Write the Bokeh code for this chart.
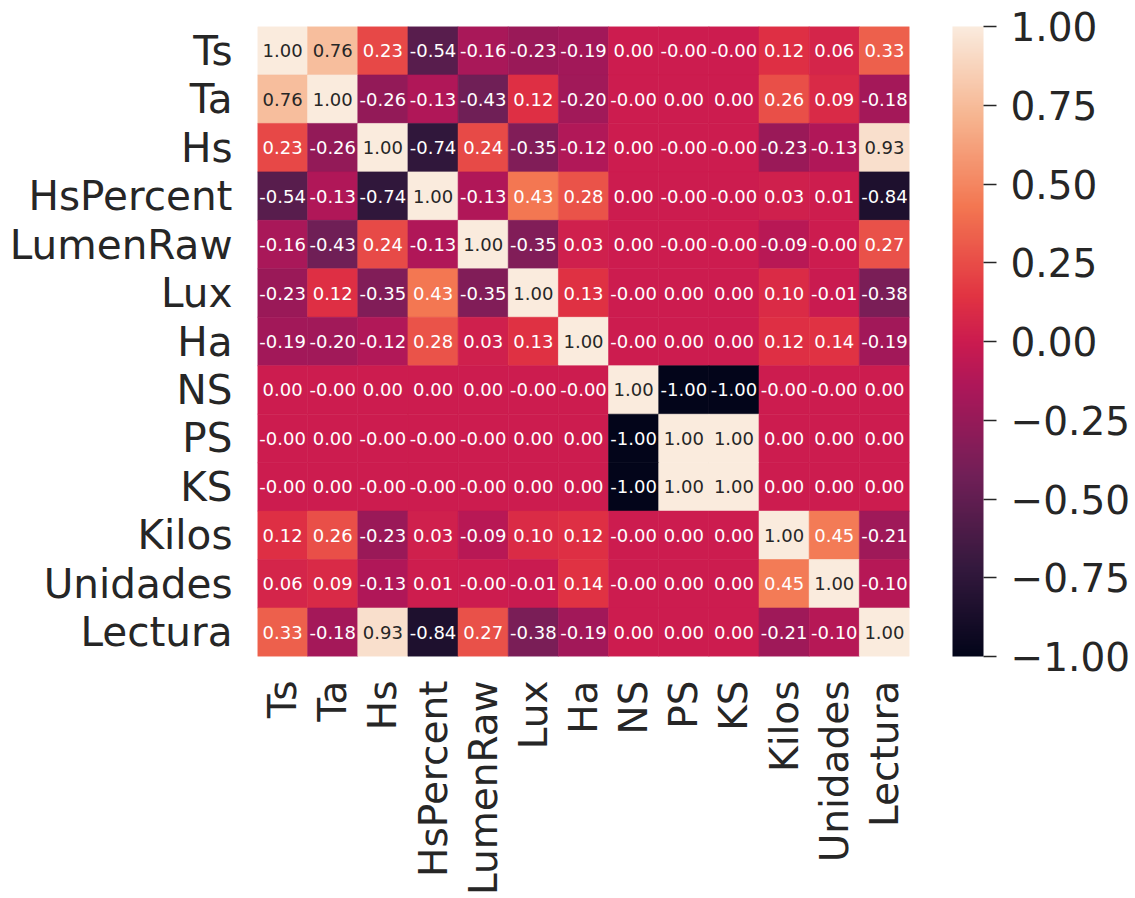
import numpy as np
from bokeh.plotting import figure
from bokeh.models import ColumnDataSource, LinearColorMapper, ColorBar, FixedTicker, FactorRange
from bokeh.core.properties import value
from bokeh.embed import file_html
from bokeh.resources import INLINE

cols = ["Ts", "Ta", "Hs", "HsPercent", "LumenRaw", "Lux", "Ha",
        "NS", "PS", "KS", "Kilos", "Unidades", "Lectura"]

r_ts       = [1.00, 0.76, 0.23, -0.54, -0.16, -0.23, -0.19, 0.0, -0.0, -0.0, 0.12, 0.06, 0.33]
r_ta       = [0.76, 1.00, -0.26, -0.13, -0.43, 0.12, -0.20, -0.0, 0.0, 0.0, 0.26, 0.09, -0.18]
r_hs       = [0.23, -0.26, 1.00, -0.74, 0.24, -0.35, -0.12, 0.0, -0.0, -0.0, -0.23, -0.13, 0.93]
r_hspct    = [-0.54, -0.13, -0.74, 1.00, -0.13, 0.43, 0.28, 0.0, -0.0, -0.0, 0.03, 0.01, -0.84]
r_lumen    = [-0.16, -0.43, 0.24, -0.13, 1.00, -0.35, 0.03, 0.0, -0.0, -0.0, -0.09, -0.0, 0.27]
r_lux      = [-0.23, 0.12, -0.35, 0.43, -0.35, 1.00, 0.13, -0.0, 0.0, 0.0, 0.10, -0.01, -0.38]
r_ha       = [-0.19, -0.20, -0.12, 0.28, 0.03, 0.13, 1.00, -0.0, 0.0, 0.0, 0.12, 0.14, -0.19]
r_ns       = [0.0, -0.0, 0.0, 0.0, 0.0, -0.0, -0.0, 1.00, -1.00, -1.00, -0.0, -0.0, 0.0]
r_ps       = [-0.0, 0.0, -0.0, -0.0, -0.0, 0.0, 0.0, -1.00, 1.00, 1.00, 0.0, 0.0, 0.0]
r_ks       = [-0.0, 0.0, -0.0, -0.0, -0.0, 0.0, 0.0, -1.00, 1.00, 1.00, 0.0, 0.0, 0.0]
r_kilos    = [0.12, 0.26, -0.23, 0.03, -0.09, 0.10, 0.12, -0.0, 0.0, 0.0, 1.00, 0.45, -0.21]
r_unidades = [0.06, 0.09, -0.13, 0.01, -0.0, -0.01, 0.14, -0.0, 0.0, 0.0, 0.45, 1.00, -0.10]
r_lectura  = [0.33, -0.18, 0.93, -0.84, 0.27, -0.38, -0.19, 0.0, 0.0, 0.0, -0.21, -0.10, 1.00]

rows = [r_ts, r_ta, r_hs, r_hspct, r_lumen, r_lux, r_ha, r_ns, r_ps, r_ks,
        r_kilos, r_unidades, r_lectura]

cbar_ticks = [-1.0, -0.75, -0.5, -0.25, 0.0, 0.25, 0.5, 0.75, 1.0]

# rocket-like colormap
anchors_t = [0.0, 1/7, 2/7, 3/7, 0.5, 4/7, 5/7, 6/7, 1.0]
anchors_c = ["#03051A", "#35193E", "#701F57", "#AD1759", "#CB1B4F",
             "#E13342", "#F37651", "#F6B48F", "#FAEBDD"]

def hex2rgb(h):
    return [int(h[i:i + 2], 16) for i in (1, 3, 5)]

arr = np.array([hex2rgb(c) for c in anchors_c], dtype=float)
ts = np.linspace(0, 1, 256)
pal_rgb = np.stack([np.interp(ts, anchors_t, arr[:, k]) for k in range(3)], axis=1)
palette = ["#%02x%02x%02x" % tuple(int(round(v)) for v in c) for c in pal_rgb]

def rel_lum(rgb):
    c = np.array(rgb) / 255.0
    c = np.where(c <= 0.03928, c / 12.92, ((c + 0.055) / 1.055) ** 2.4)
    return 0.2126 * c[0] + 0.7152 * c[1] + 0.0722 * c[2]

xs, ys, vs, labels, tcs = [], [], [], [], []
for i, rname in enumerate(cols):
    for j, cname in enumerate(cols):
        v = rows[i][j]
        xs.append(cname)
        ys.append(rname)
        vs.append(v)
        labels.append("%.2f" % v)
        idx = int(round((v + 1) / 2 * 255))
        tcs.append("#262626" if rel_lum(pal_rgb[idx]) > 0.408 else "#ffffff")

src = ColumnDataSource(dict(x=xs, y=ys, v=vs, label=labels, tc=tcs))

mapper = LinearColorMapper(palette=palette, low=-1, high=1)

FONT = "DejaVu Sans"
p = figure(width=1133, height=898, x_range=FactorRange(*cols),
           y_range=FactorRange(*list(reversed(cols))),
           output_backend="svg", toolbar_location=None,
           min_border_left=257, min_border_top=26, min_border_bottom=0,
           min_border_right=10)

p.rect(x="x", y="y", width=1, height=1, source=src,
       fill_color={"field": "v", "transform": mapper},
       line_color={"field": "v", "transform": mapper}, line_width=0.6)
p.text(x="x", y="y", text="label", source=src, text_color="tc",
       text_font=value(FONT), text_font_size="18px",
       text_align="center", text_baseline="middle")

p.outline_line_color = None
p.grid.grid_line_color = None
p.background_fill_color = "white"
p.border_fill_color = "white"

for ax in (p.xaxis[0], p.yaxis[0]):
    ax.axis_line_color = None
    ax.major_tick_line_color = None
    ax.minor_tick_line_color = None
    ax.major_tick_out = 0
    ax.major_tick_in = 0
    ax.major_label_text_font = FONT
    ax.major_label_text_color = "#262626"
p.yaxis[0].major_label_text_font_size = "40.5px"
p.xaxis[0].major_label_text_font_size = "39px"
p.yaxis[0].major_label_standoff = 25
p.xaxis[0].major_label_standoff = 24
p.xaxis[0].major_label_orientation = np.pi / 2

overrides = {}
for t in cbar_ticks:
    s = "%.2f" % abs(t)
    overrides[t] = ("\u2212" + s) if t < 0 else s

cb = ColorBar(color_mapper=mapper, ticker=FixedTicker(ticks=cbar_ticks),
              major_label_overrides=overrides,
              major_label_text_font=FONT, major_label_text_font_size="39px",
              major_label_text_color="#262626",
              major_tick_in=0, major_tick_out=13, major_tick_line_color="#262626",
              major_tick_line_width=1.5,
              minor_tick_line_color=None, bar_line_color=None,
              label_standoff=14, width=31, height="auto",
              padding=0, margin=0, location=(43, 0),
              background_fill_color=None, border_line_color=None)
p.add_layout(cb, "right")

open("out.html", "w").write(file_html(p, INLINE))
